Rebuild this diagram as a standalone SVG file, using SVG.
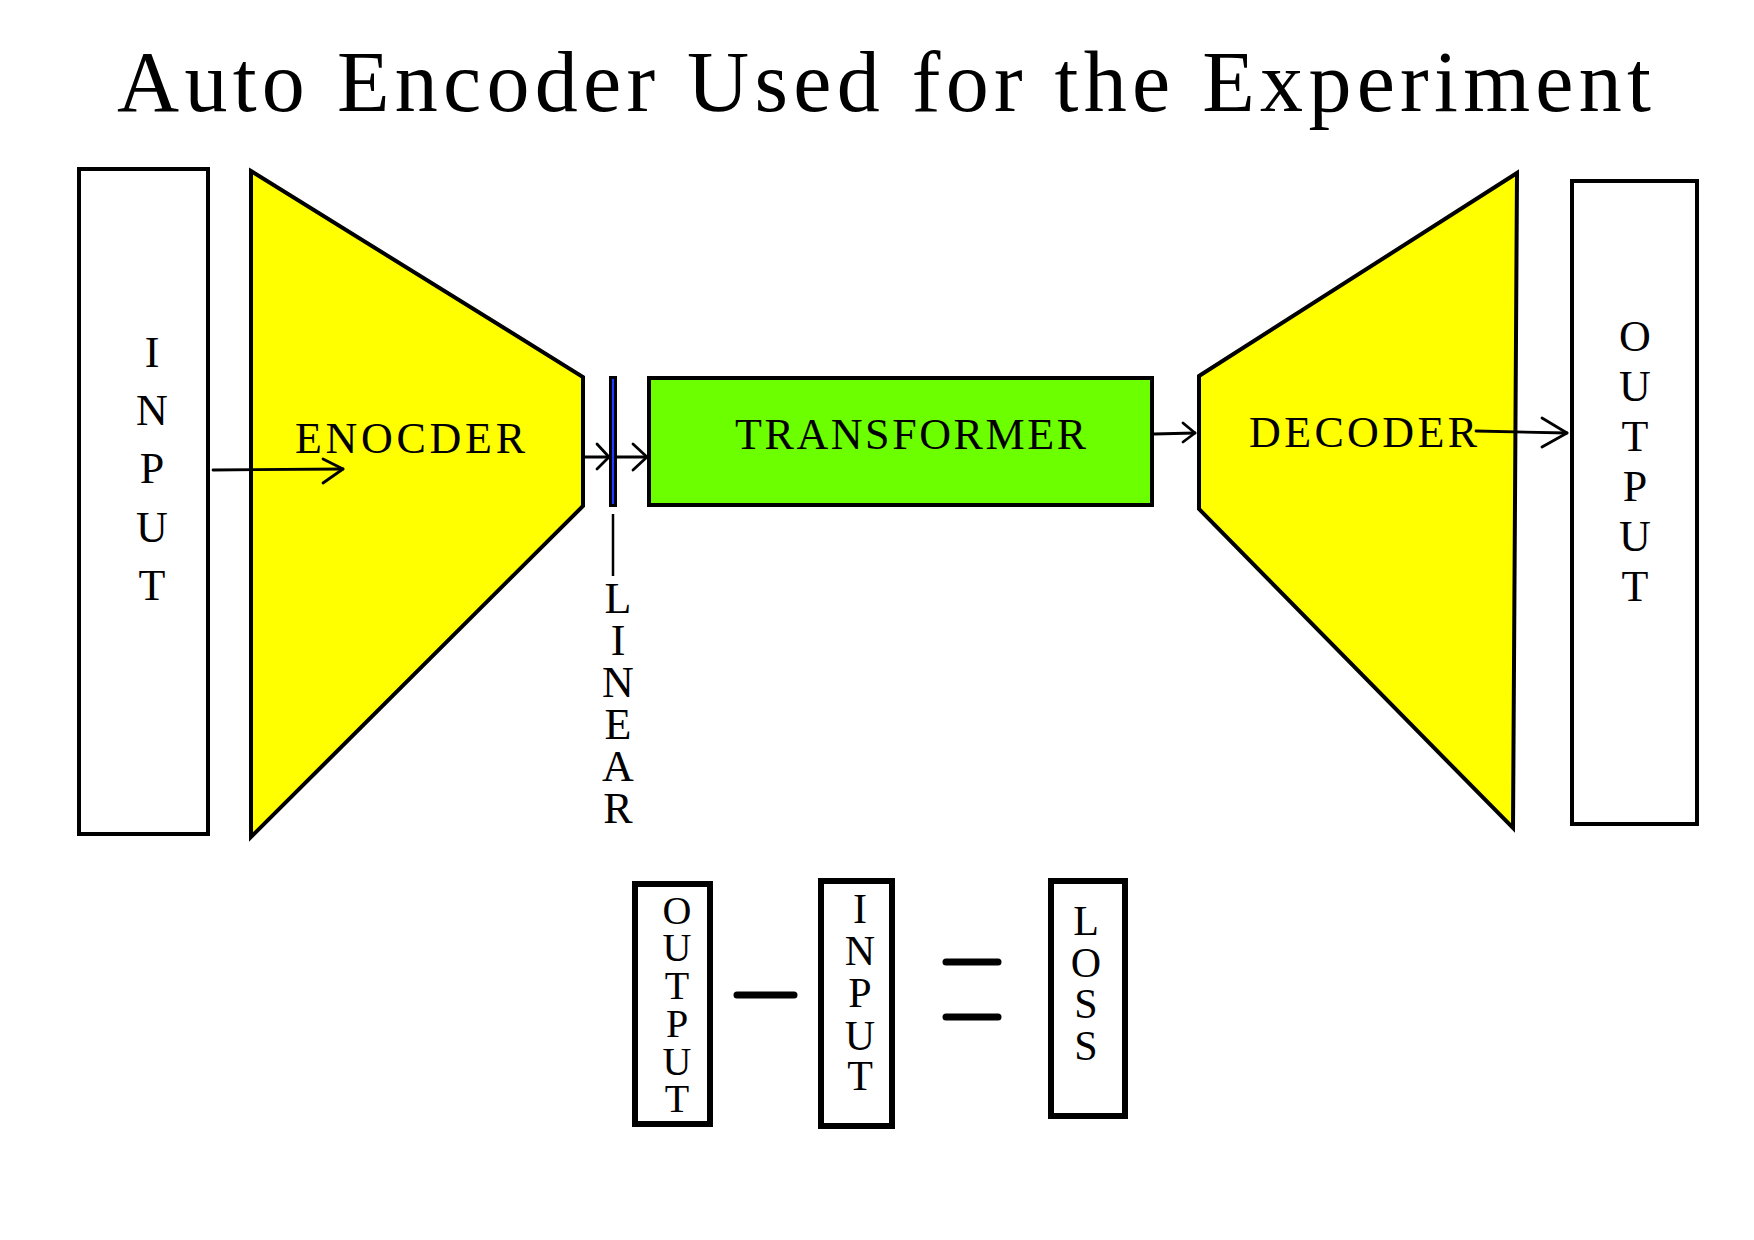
<svg xmlns="http://www.w3.org/2000/svg" width="1754" height="1240" viewBox="0 0 1754 1240">
<style>
.t{font-family:"Liberation Serif","Times New Roman",serif;fill:#000}
.box{fill:#fff;stroke:#000;stroke-width:4}
.thick{fill:#fff;stroke:#000;stroke-width:6}
.trap{fill:#ffff00;stroke:#000;stroke-width:4;stroke-linejoin:miter}
.ln{fill:none;stroke:#000;stroke-width:2.8;stroke-linecap:round;stroke-linejoin:round}
.op{fill:none;stroke:#000;stroke-width:7;stroke-linecap:round}
</style>
<rect width="1754" height="1240" fill="#fff"/>
<text class="t" x="117" y="111" font-size="86" textLength="1534" lengthAdjust="spacing">Auto Encoder Used for the Experiment</text>

<g id="input">
<rect class="box" x="79" y="169" width="129" height="665"/>
<text class="t" font-size="44" text-anchor="middle"><tspan x="152" y="367">I</tspan><tspan x="152" y="425">N</tspan><tspan x="152" y="483">P</tspan><tspan x="152" y="542">U</tspan><tspan x="152" y="600">T</tspan></text>
</g>

<g id="encoder">
<polygon class="trap" points="251,171 583,377 583,506 251,837"/>
<text class="t" x="295" y="453" font-size="44" textLength="230" lengthAdjust="spacing">ENOCDER</text>
</g>

<g id="linear">
<rect x="609" y="376" width="8" height="131" fill="#000"/>
<line x1="613" y1="379" x2="613" y2="504" stroke="#1e3cff" stroke-width="2.2"/>
<line x1="613" y1="514" x2="613" y2="576" stroke="#000" stroke-width="2.5"/>
<text class="t" font-size="44" text-anchor="middle"><tspan x="618" y="613">L</tspan><tspan x="618" y="655">I</tspan><tspan x="618" y="697">N</tspan><tspan x="618" y="739">E</tspan><tspan x="618" y="781">A</tspan><tspan x="618" y="823">R</tspan></text>
</g>

<g id="transformer">
<rect x="649" y="378" width="503" height="127" fill="#6cff00" stroke="#000" stroke-width="4"/>
<text class="t" x="735" y="449" font-size="44" textLength="351" lengthAdjust="spacing">TRANSFORMER</text>
</g>

<g id="decoder">
<polygon class="trap" points="1199,376 1517,173 1513,828 1199,509"/>
<text class="t" x="1249" y="447" font-size="44" textLength="228" lengthAdjust="spacing">DECODER</text>
</g>

<g id="output">
<rect class="box" x="1572" y="181" width="125" height="643"/>
<text class="t" font-size="44" text-anchor="middle"><tspan x="1635" y="351">O</tspan><tspan x="1635" y="401">U</tspan><tspan x="1635" y="451">T</tspan><tspan x="1635" y="501">P</tspan><tspan x="1635" y="551">U</tspan><tspan x="1635" y="601">T</tspan></text>
</g>

<g id="connectors">
<line class="ln" x1="213" y1="470" x2="343" y2="469"/>
<polyline class="ln" points="323,459 343,469 323,483"/>
<line class="ln" x1="584" y1="457" x2="609" y2="457"/>
<polyline class="ln" points="597,444 609,457 597,469"/>
<line class="ln" x1="617" y1="457" x2="647" y2="457"/>
<polyline class="ln" points="633,444 647,457 633,470"/>
<line class="ln" x1="1154" y1="434" x2="1195" y2="433"/>
<polyline class="ln" points="1183,423 1195,433 1183,442"/>
<line class="ln" x1="1476" y1="431" x2="1567" y2="433"/>
<polyline class="ln" points="1542,418 1567,433 1542,447"/>
</g>

<g id="loss-output">
<rect class="thick" x="635" y="884" width="75" height="240"/>
<text class="t" font-size="40" text-anchor="middle"><tspan x="677" y="924">O</tspan><tspan x="677" y="961">U</tspan><tspan x="677" y="999">T</tspan><tspan x="677" y="1037">P</tspan><tspan x="677" y="1075">U</tspan><tspan x="677" y="1112">T</tspan></text>
</g>
<g id="minus"><line class="op" x1="737" y1="995" x2="794" y2="995"/></g>
<g id="loss-input">
<rect class="thick" x="821" y="881" width="71" height="245"/>
<text class="t" font-size="42" text-anchor="middle"><tspan x="860" y="923">I</tspan><tspan x="860" y="965">N</tspan><tspan x="860" y="1007">P</tspan><tspan x="860" y="1050">U</tspan><tspan x="860" y="1090">T</tspan></text>
</g>
<g id="equals">
<line class="op" x1="946" y1="962" x2="998" y2="962"/>
<line class="op" x1="946" y1="1017" x2="998" y2="1017"/>
</g>
<g id="loss">
<rect class="thick" x="1051" y="881" width="74" height="235"/>
<text class="t" font-size="42" text-anchor="middle"><tspan x="1086" y="935">L</tspan><tspan x="1086" y="977">O</tspan><tspan x="1086" y="1018">S</tspan><tspan x="1086" y="1060">S</tspan></text>
</g>
</svg>
